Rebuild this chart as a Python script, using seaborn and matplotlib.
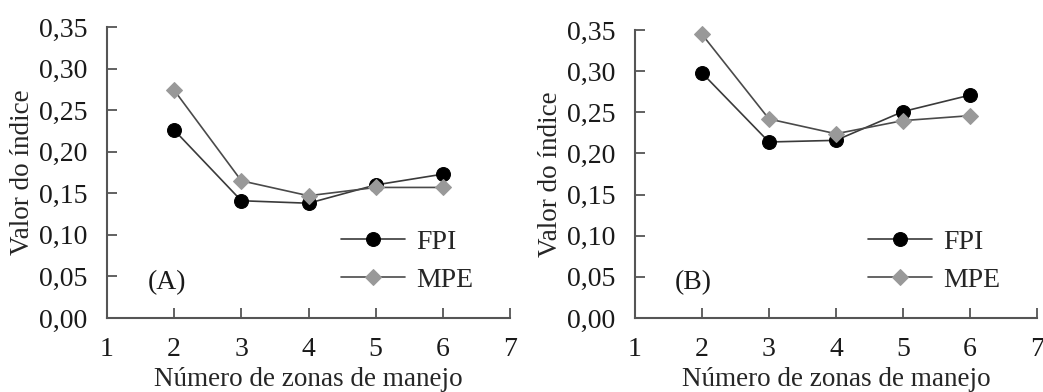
import matplotlib
matplotlib.use("Agg")
import matplotlib.pyplot as plt
import seaborn as sns
import pandas as pd

# Number of management zones
zones = [2, 3, 4, 5, 6]

# Panel (A)
fpi_a = [0.226, 0.141, 0.138, 0.160, 0.173]
mpe_a = [0.274, 0.165, 0.147, 0.157, 0.157]

# Panel (B)
fpi_b = [0.298, 0.214, 0.216, 0.251, 0.271]
mpe_b = [0.345, 0.242, 0.224, 0.240, 0.246]

series_names = ["FPI", "MPE"]
panel_tags = ["(A)", "(B)"]
y_ticks = [0.00, 0.05, 0.10, 0.15, 0.20, 0.25, 0.30, 0.35]
x_ticks = [1, 2, 3, 4, 5, 6, 7]

sns.set_theme(style="ticks")
plt.rcParams["font.family"] = ["Liberation Serif", "DejaVu Serif"]
plt.rcParams["axes.edgecolor"] = "#555555"
plt.rcParams["xtick.color"] = "#555555"
plt.rcParams["ytick.color"] = "#555555"
plt.rcParams["xtick.labelcolor"] = "#1a1a1a"
plt.rcParams["ytick.labelcolor"] = "#1a1a1a"

fig = plt.figure(figsize=(10.43, 3.92), dpi=100)
ax_a = fig.add_axes([0.1026, 0.189, 0.3864, 0.742])
ax_b = fig.add_axes([0.6088, 0.189, 0.3854, 0.734])

styles = {
    "FPI": dict(marker="o", markersize=10, markerfacecolor="black",
                markeredgecolor="black", color="#3a3a3a"),
    "MPE": dict(marker="D", markersize=8, markerfacecolor="#999999",
                markeredgecolor="#999999", color="#4a4a4a"),
}

panels = [(ax_a, fpi_a, mpe_a, panel_tags[0]), (ax_b, fpi_b, mpe_b, panel_tags[1])]

for ax, fpi, mpe, tag in panels:
    df = pd.DataFrame({
        "zonas": zones * 2,
        "valor": fpi + mpe,
        "serie": [series_names[0]] * len(zones) + [series_names[1]] * len(zones),
    })
    for name in series_names:
        sub = df[df["serie"] == name]
        sns.lineplot(data=sub, x="zonas", y="valor", ax=ax, label=name,
                     linewidth=1.2, clip_on=False, **styles[name])

    ax.set_xlim(1, 7)
    ax.set_ylim(0, 0.35)
    ax.set_xticks(x_ticks)
    ax.set_yticks(y_ticks)
    ax.set_yticklabels([f"{v:.2f}".replace(".", ",") for v in y_ticks])
    ax.tick_params(axis="both", direction="in", length=7, width=1.3,
                   labelsize=20)
    ax.tick_params(axis="y", pad=14)
    ax.tick_params(axis="x", pad=14)
    for side in ("top", "right"):
        ax.spines[side].set_visible(False)
    for side in ("left", "bottom"):
        ax.spines[side].set_linewidth(1.5)

    ax.set_xlabel("Número de zonas de manejo", fontsize=19.5, labelpad=3.5)
    ax.set_ylabel("Valor do índice", fontsize=19.5, labelpad=3)

    ax.text(1.6, 0.043, tag, fontsize=20, va="center", ha="left", color="#1a1a1a")

    ax.legend(loc="lower right", bbox_to_anchor=(0.97, 0.0), frameon=False,
              fontsize=20, handlelength=2.3, handletextpad=0.4,
              labelspacing=0.45)

fig.savefig("out.png", dpi=100, facecolor="white")
